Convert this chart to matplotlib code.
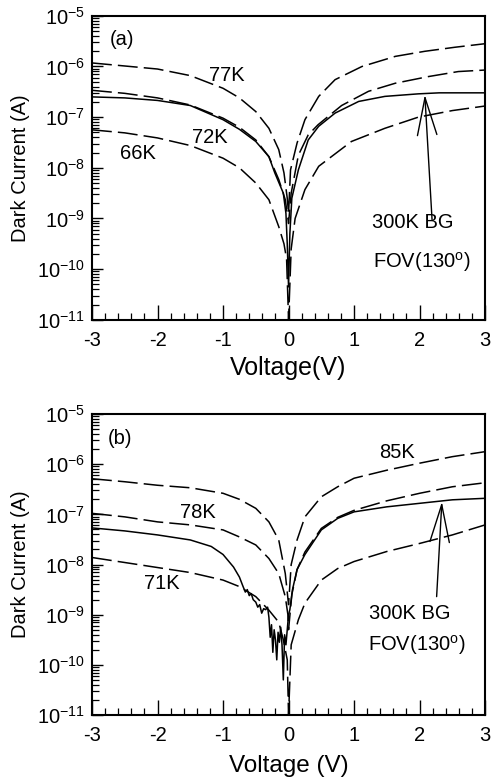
import numpy as np
import matplotlib
matplotlib.use("Agg")
import matplotlib.pyplot as plt
from matplotlib.ticker import FixedLocator, LogLocator, NullFormatter

plt.rcParams["font.family"] = ["Liberation Sans", "DejaVu Sans"]
plt.rcParams["mathtext.default"] = "regular"

# ---- panel (a) : log10 of dark current (A) vs voltage (V)
v_77k_a = [-3, -2.5, -2, -1.5, -1, -0.75, -0.5, -0.3, -0.15, -0.07, -0.02, 0,
           0.03, 0.13, 0.25, 0.46, 0.71, 1.12, 1.63, 2.08, 2.54, 3]
lg_77k_a = [-5.93, -5.99, -6.05, -6.18, -6.43, -6.62, -6.89, -7.22, -7.64, -8.1, -8.6, -8.9,
            -8.04, -7.51, -7.05, -6.59, -6.26, -6.0, -5.8, -5.7, -5.62, -5.55]

v_72k_a = [-3, -2.5, -2, -1.5, -1, -0.75, -0.5, -0.3, -0.15, -0.05, -0.01, 0,
           0.04, 0.15, 0.3, 0.45, 0.61, 0.81, 1.22, 1.63, 2.13, 2.59, 3]
lg_72k_a = [-6.47, -6.53, -6.62, -6.76, -7.02, -7.2, -7.45, -7.78, -8.23, -8.63, -9.0, -9.1,
            -8.5, -7.75, -7.35, -7.15, -6.98, -6.77, -6.49, -6.33, -6.2, -6.1, -6.07]

v_66k_a = [-3, -2.5, -2, -1.5, -1, -0.75, -0.5, -0.3, -0.15, -0.07, -0.03, 0,
           0.04, 0.1, 0.25, 0.46, 0.96, 1.47, 1.98, 2.5, 3]
lg_66k_a = [-7.25, -7.31, -7.41, -7.56, -7.81, -8.0, -8.3, -8.63, -9.16, -9.5, -9.8, -11,
            -9.6, -9.0, -8.43, -7.97, -7.48, -7.22, -7.0, -6.87, -6.78]

v_bg_a = [-3, -2.5, -2, -1.5, -1, -0.75, -0.5, -0.3, -0.21, -0.08, -0.04, -0.02, 0,
          0.02, 0.05, 0.15, 0.3, 0.46, 0.71, 1.07, 1.47, 1.98, 2.3, 3]
lg_bg_a = [-6.6, -6.62, -6.67, -6.77, -7.05, -7.24, -7.48, -7.78, -8.1, -8.5, -8.9, -9.5, -10.35,
           -9.3, -8.6, -8.04, -7.45, -7.18, -6.92, -6.69, -6.59, -6.54, -6.52, -6.52]

# ---- panel (b)
v_85k_b = [-3, -2.5, -2, -1.5, -1, -0.75, -0.5, -0.3, -0.15, -0.05, 0,
           0.04, 0.13, 0.25, 0.5, 0.75, 1, 1.5, 2, 2.5, 3]
lg_85k_b = [-6.29, -6.35, -6.42, -6.47, -6.58, -6.7, -6.88, -7.15, -7.51, -8.18, -8.8,
            -8.0, -7.51, -7.05, -6.65, -6.45, -6.28, -6.12, -5.98, -5.85, -5.75]

v_78k_b = [-3, -2.5, -2, -1.5, -1, -0.75, -0.5, -0.3, -0.15, -0.05, -0.01, 0,
           0.05, 0.13, 0.25, 0.5, 0.75, 1, 1.5, 2, 2.5, 3]
lg_78k_b = [-6.98, -7.05, -7.15, -7.21, -7.31, -7.45, -7.61, -7.88, -8.18, -8.64, -9.0, -9.3,
            -8.6, -8.1, -7.75, -7.28, -7.06, -6.92, -6.73, -6.58, -6.45, -6.37]

v_71k_b = [-3, -2.5, -2, -1.5, -1, -0.75, -0.5, -0.3, -0.15, -0.08, -0.02, 0,
           0.04, 0.15, 0.25, 0.5, 0.75, 1, 1.5, 2, 2.5, 3]
lg_71k_b = [-7.86, -7.96, -8.06, -8.16, -8.31, -8.44, -8.64, -8.91, -9.15, -9.5, -9.9, -11,
            -9.6, -9.1, -8.77, -8.31, -8.08, -7.94, -7.74, -7.58, -7.41, -7.21]

v_bg_b = [-3, -2.5, -2, -1.5, -1.18, -1, -0.84, -0.75, -0.7, -0.66, -0.63, -0.6, -0.57, -0.54,
          -0.5, -0.47, -0.44, -0.41, -0.38, -0.35, -0.32, -0.3, -0.28, -0.26, -0.24, -0.22,
          -0.2, -0.18, -0.16, -0.14, -0.12, -0.1, -0.08, -0.06, -0.04, -0.02, 0,
          0.02, 0.06, 0.13, 0.25, 0.5, 0.75, 1, 1.5, 2, 2.5, 3]
lg_bg_b = [-7.27, -7.33, -7.41, -7.51, -7.64, -7.8, -8.05, -8.25, -8.42, -8.55, -8.5, -8.62, -8.58, -8.7,
           -8.75, -8.85, -8.8, -8.97, -8.88, -8.9, -8.85, -9.05, -9.45, -9.2, -9.75, -9.3,
           -9.5, -9.9, -9.35, -9.55, -9.25, -9.6, -10.3, -9.4, -9.6, -9.3, -9.0,
           -8.9, -8.5, -8.1, -7.8, -7.31, -7.08, -6.95, -6.85, -6.78, -6.71, -6.68]

# arrow tip / tail (V, log10 I)
arrow_a = [(2.08, -6.56), (2.19, -9.02)]
arrow_b = [(2.34, -6.75), (2.26, -8.64)]

dash = (0, (13, 4))
FS = 14.5


def style_axes(ax):
    ax.set_xlim(-3, 3)
    ax.set_ylim(1e-11, 1e-5)
    ax.set_yscale("log")
    ax.xaxis.set_major_locator(FixedLocator([-3, -2, -1, 0, 1, 2, 3]))
    ax.xaxis.set_minor_locator(FixedLocator(np.arange(-3, 3.01, 0.2)))
    ax.yaxis.set_minor_locator(LogLocator(base=10, subs=np.arange(2, 10), numticks=20))
    ax.yaxis.set_minor_formatter(NullFormatter())
    ax.set_yticks([10.0 ** k for k in range(-11, -4)])
    ax.set_yticklabels([r"$10^{%d}$" % k for k in range(-11, -4)])
    ax.set_xticklabels(["-3", "-2", "-1", "0", "1", "2", "3"])
    ax.tick_params(which="major", direction="in", length=11, width=1.0, labelsize=FS,
                   top=False, right=False)
    ax.tick_params(axis="y", which="major", length=8, pad=5)
    ax.tick_params(axis="x", which="major", pad=8)
    ax.tick_params(which="minor", direction="in", length=5, width=0.9, top=False, right=False)
    for s in ax.spines.values():
        s.set_linewidth(1.5)
    ax.set_ylabel("Dark Current (A)", fontsize=14.5)
    ax.yaxis.set_label_coords(-0.158, 0.5)


def curve(ax, v, lg, solid=False):
    ax.plot(v, 10.0 ** np.array(lg), color="black", lw=1.1,
            linestyle="-" if solid else dash)


def arrow(ax, pts):
    (x1, y1), (x0, y0) = pts
    ax.annotate("", xy=(x1, 10 ** y1), xytext=(x0, 10 ** y0),
                arrowprops=dict(arrowstyle="->,head_length=2.7,head_width=0.7",
                                color="black", lw=1.0, shrinkA=0, shrinkB=0))


fig = plt.figure(figsize=(4.92, 7.8), dpi=100)
ax_a = fig.add_axes([0.187, 0.590, 0.799, 0.3897])
ax_b = fig.add_axes([0.187, 0.0833, 0.799, 0.3859])

# panel (a)
curve(ax_a, v_77k_a, lg_77k_a)
curve(ax_a, v_72k_a, lg_72k_a)
curve(ax_a, v_66k_a, lg_66k_a)
curve(ax_a, v_bg_a, lg_bg_a, solid=True)
arrow(ax_a, arrow_a)
style_axes(ax_a)
ax_a.set_xlabel("Voltage(V)", fontsize=18)
ax_a.xaxis.set_label_coords(0.5, -0.118)
ax_a.xaxis.label.set_va("top")
ax_a.text(-2.54, 10 ** -5.47, "(a)", fontsize=FS, ha="center", va="center")
ax_a.text(-0.94, 10 ** -6.18, "77K", fontsize=FS, ha="center", va="center")
ax_a.text(-1.2, 10 ** -7.41, "72K", fontsize=FS, ha="center", va="center")
ax_a.text(-2.3, 10 ** -7.72, "66K", fontsize=FS, ha="center", va="center")
ax_a.text(1.9, 10 ** -9.08, "300K BG", fontsize=FS, ha="center", va="center")
ax_a.text(2.04, 10 ** -9.85, r"FOV(130$^{o}$)", fontsize=FS, ha="center", va="center")

# panel (b)
curve(ax_b, v_85k_b, lg_85k_b)
curve(ax_b, v_78k_b, lg_78k_b)
curve(ax_b, v_71k_b, lg_71k_b)
curve(ax_b, v_bg_b, lg_bg_b, solid=True)
arrow(ax_b, arrow_b)
style_axes(ax_b)
ax_b.set_xlabel("Voltage (V)", fontsize=17.5)
ax_b.xaxis.set_label_coords(0.5, -0.132)
ax_b.xaxis.label.set_va("top")
ax_b.text(-2.57, 10 ** -5.48, "(b)", fontsize=FS, ha="center", va="center")
ax_b.text(1.66, 10 ** -5.76, "85K", fontsize=FS, ha="center", va="center")
ax_b.text(-1.38, 10 ** -6.97, "78K", fontsize=FS, ha="center", va="center")
ax_b.text(-1.93, 10 ** -8.37, "71K", fontsize=FS, ha="center", va="center")
ax_b.text(1.85, 10 ** -8.97, "300K BG", fontsize=FS, ha="center", va="center")
ax_b.text(1.96, 10 ** -9.6, r"FOV(130$^{o}$)", fontsize=FS, ha="center", va="center")

fig.savefig("out.png", dpi=100)
